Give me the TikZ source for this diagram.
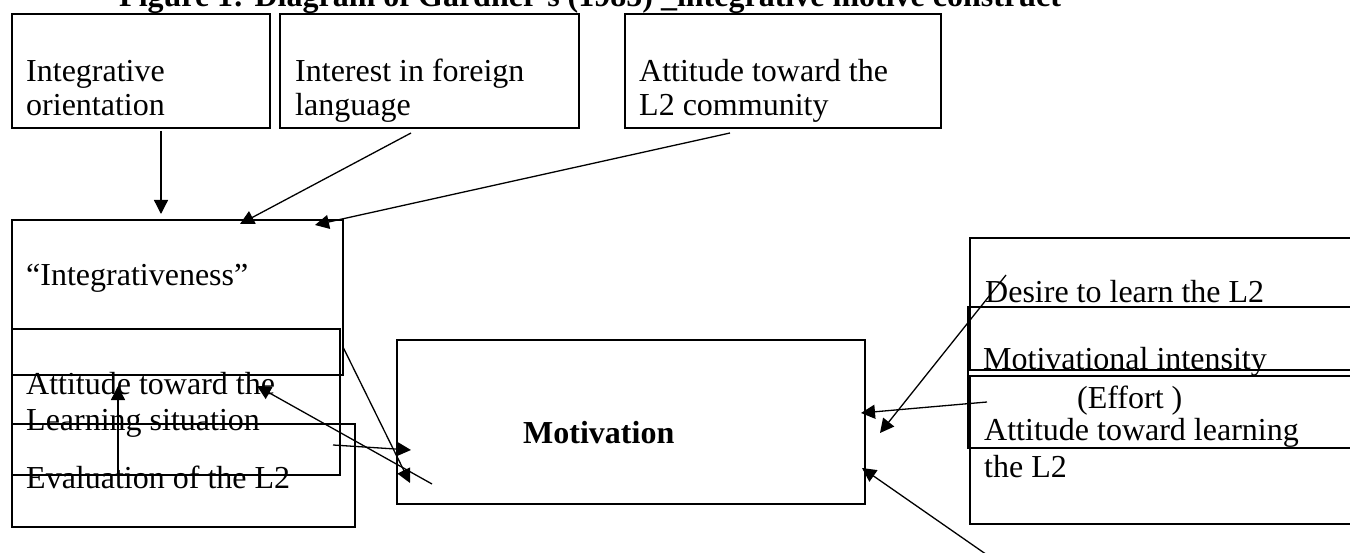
\documentclass[tikz,border=0pt]{standalone}
\usepackage{fontspec}
\setmainfont{Liberation Serif}
\usetikzlibrary{arrows.meta}
\begin{document}
\begin{tikzpicture}[x=1pt,y=-1pt,
  box/.style={draw,line width=2pt,anchor=north west,inner sep=0pt},
  lbl/.style={anchor=base west,inner sep=0pt,font=\fontsize{32}{38}\selectfont},
  ttl/.style={anchor=base west,inner sep=0pt,font=\fontsize{32}{38}\selectfont\bfseries},
  conn/.style={line width=1.3pt,-{Triangle[length=14pt,width=14pt]}}]
\useasboundingbox (0,0) rectangle (1350,553);
\clip (0,0) rectangle (1350,553);
% title
\node[ttl] (title) at (119,7) {Figure 1: Diagram of Gardner’s (1985) \_integrative motive construct};
% boxes
\node[box,minimum width=258pt,minimum height=114pt] (b1) at (11,13) {};
\node[box,minimum width=299pt,minimum height=114pt] (b2) at (279,13) {};
\node[box,minimum width=316pt,minimum height=114pt] (b3) at (624,13) {};
\node[box,minimum width=331pt,minimum height=155pt] (bi) at (11,219) {};
\node[box,minimum width=328pt,minimum height=146pt] (bl) at (11,328) {};
\node[box,minimum width=343pt,minimum height=103pt] (be) at (11,423) {};
\node[box,minimum width=468pt,minimum height=164pt] (bm) at (396,339) {};
\node[box,minimum width=401pt,minimum height=132pt] (bd) at (969,237) {};
\node[box,minimum width=403pt,minimum height=141pt] (bmi) at (967,306) {};
\node[box,minimum width=401pt,minimum height=148pt] (ba) at (969,375) {};
% texts
\node[lbl] (t1a) at (26,82) {Integrative};
\node[lbl] (t1b) at (26,116) {orientation};
\node[lbl] (t2a) at (295,82) {Interest in foreign};
\node[lbl] (t2b) at (295,116) {language};
\node[lbl] (t3a) at (639,82) {Attitude toward the};
\node[lbl] (t3b) at (639,116) {L2 community};
\node[lbl] (ti) at (26,286) {“Integrativeness”};
\node[lbl] (tla) at (26,395) {Attitude toward the};
\node[lbl] (tlb) at (26,430) {Learning situation};
\node[lbl] (te) at (26,488) {Evaluation of the L2};
\node[lbl,font=\fontsize{32}{38}\selectfont\bfseries] (tm) at (523,443) {Motivation};
\node[lbl] (td) at (985,303) {Desire to learn the L2};
\node[lbl] (tmi) at (983,370) {Motivational intensity};
\node[lbl] (tef) at (1077,408) {(Effort )};
\node[lbl] (taa) at (984,440) {Attitude toward learning};
\node[lbl] (tab) at (984,477) {the L2};
% connector end points
\coordinate (a1s) at (161,131); \coordinate (a1e) at (161,214);
\coordinate (a2s) at (411,133); \coordinate (a2e) at (240,224);
\coordinate (a3s) at (730,133); \coordinate (a3e) at (315,225);
\coordinate (a4s) at (118,474); \coordinate (a4e) at (118,386);
\coordinate (a5s) at (432,484); \coordinate (a5e) at (257,386);
\coordinate (a6s) at (333,445); \coordinate (a6e) at (411,450);
\coordinate (a7s) at (343,347); \coordinate (a7e) at (410,483);
\coordinate (a8s) at (1006,275); \coordinate (a8e) at (880,433);
\coordinate (a9s) at (987,402); \coordinate (a9e) at (861,413);
\coordinate (a10s) at (990,557); \coordinate (a10e) at (862,468);
% connectors
\draw[conn] (a1s) -- (a1e);
\draw[conn] (a2s) -- (a2e);
\draw[conn] (a3s) -- (a3e);
\draw[conn] (a4s) -- (a4e);
\draw[conn] (a5s) -- (a5e);
\draw[conn] (a6s) -- (a6e);
\draw[conn] (a7s) -- (a7e);
\draw[conn] (a8s) -- (a8e);
\draw[conn] (a9s) -- (a9e);
\draw[conn] (a10s) -- (a10e);
\end{tikzpicture}
\end{document}
